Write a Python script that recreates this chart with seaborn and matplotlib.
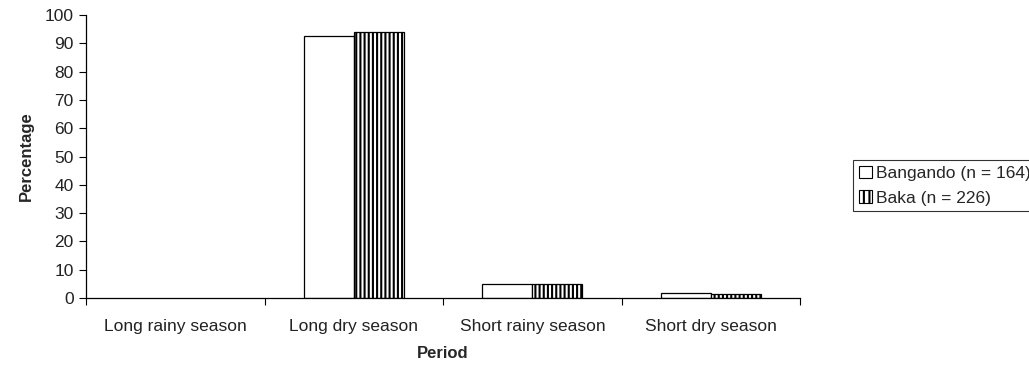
import pandas as pd
import matplotlib
matplotlib.use("Agg")
import matplotlib.pyplot as plt
from matplotlib.patches import Patch
import seaborn as sns

# Data
periods = ["Long rainy season", "Long dry season", "Short rainy season", "Short dry season"]
groups = ["Bangando (n = 164)", "Baka (n = 226)"]
bangando = [0.0, 92.6, 5.0, 1.9]
baka = [0.0, 94.0, 5.0, 1.4]

df = pd.DataFrame({
    "Period": periods * 2,
    "Group": [groups[0]] * 4 + [groups[1]] * 4,
    "Percentage": bangando + baka,
})

sns.set_style("white")
plt.rcParams["font.family"] = ["Liberation Sans", "DejaVu Sans"]
plt.rcParams["hatch.linewidth"] = 1.5

fig = plt.figure(figsize=(10.29, 3.67), dpi=100)
ax = fig.add_axes([0.0836, 0.188, 0.694, 0.771])

sns.barplot(data=df, x="Period", y="Percentage", hue="Group", order=periods,
            hue_order=groups, palette=["white", "white"], width=0.56,
            edgecolor="black", linewidth=0.9, ax=ax, legend=False)

# hatch the Baka bars, hide empty ones
for bar in ax.containers[1]:
    bar.set_hatch("||||")
for cont in ax.containers:
    for bar in cont:
        if bar.get_height() == 0:
            bar.set_visible(False)

ax.set_xlim(-0.5, 3.5)
ax.set_ylim(0, 100)
ax.set_yticks(range(0, 101, 10))
ax.tick_params(axis="y", left=True, direction="out", length=5, width=0.8,
               labelsize=12.5, color="black", pad=4, labelcolor="#222222")
ax.tick_params(axis="x", which="major", bottom=False, length=0, labelsize=12.5,
               pad=15, labelcolor="#222222")
ax.set_xticks([-0.5, 0.5, 1.5, 2.5, 3.5], minor=True)
ax.tick_params(axis="x", which="minor", bottom=True, direction="out", length=5,
               width=0.8, color="black")

for s in ["top", "right"]:
    ax.spines[s].set_visible(False)
for s in ["left", "bottom"]:
    ax.spines[s].set_color("black")
    ax.spines[s].set_linewidth(0.9)

ax.set_xlabel("Period", fontweight="bold", fontsize=12, labelpad=9)
ax.set_ylabel("Percentage", fontweight="bold", fontsize=12, labelpad=8)

handles = [Patch(facecolor="white", edgecolor="black", linewidth=0.8),
           Patch(facecolor="white", edgecolor="black", linewidth=0.8, hatch="|||")]
leg = fig.legend(handles, groups, loc="upper left", bbox_to_anchor=(0.829, 0.564),
                 frameon=True, fancybox=False, edgecolor="black", fontsize=12.5,
                 handlelength=0.75, handleheight=0.75, handletextpad=0.25,
                 borderpad=0.33, labelspacing=0.53, borderaxespad=0)
leg.get_frame().set_linewidth(0.8)

fig.savefig("out.png", dpi=100)
